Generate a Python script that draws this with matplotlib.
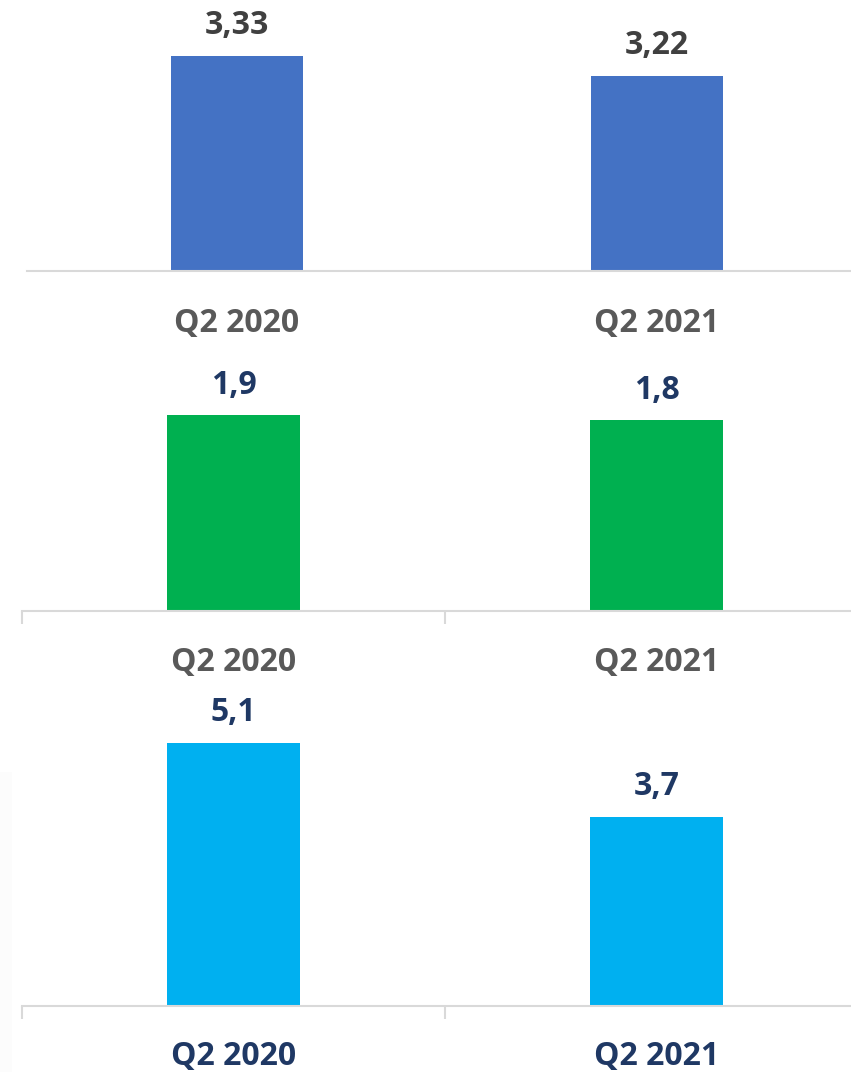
import matplotlib
matplotlib.use("Agg")
import matplotlib.pyplot as plt
from matplotlib.transforms import blended_transform_factory, offset_copy
from matplotlib.patches import Rectangle

plt.rcParams['font.family'] = ['Open Sans', 'DejaVu Sans']

# ---- data ----
categories = ["Q2 2020", "Q2 2021"]
values_top = [3.33, 3.22]
labels_top = ["3,33", "3,22"]
values_mid = [1.86, 1.81]
labels_mid = ["1,9", "1,8"]
values_bot = [5.10, 3.67]
labels_bot = ["5,1", "3,7"]

W, H = 851, 1072
DPI = 100
fig = plt.figure(figsize=(W / DPI, H / DPI), dpi=DPI)
fig.patch.set_facecolor("white")

GRAY_AX = "#D9D9D9"
GRAY_TXT = "#595959"
DARK_TXT = "#404040"
NAVY = "#1F3864"
FS = 23


def make_panel(vals, labels, color, left_px, width_px, base_px, height_px, ylim,
               val_color, cat_color, ticks, label_off_px):
    ax = fig.add_axes([left_px / W, 1 - base_px / H, width_px / W, height_px / H])
    x = list(range(len(vals)))
    ax.bar(x, vals, width=0.314, color=color)
    ax.set_xlim(-0.5, len(vals) - 0.5)
    ax.set_ylim(*ylim)
    for s in ["top", "right", "left"]:
        ax.spines[s].set_visible(False)
    ax.spines["bottom"].set_color(GRAY_AX)
    ax.spines["bottom"].set_linewidth(1.5)
    ax.set_yticks([])
    ax.set_xticks([])
    if ticks:
        ax.set_xticks([i - 0.5 for i in range(len(vals) + 1)], minor=True)
        ax.tick_params(axis="x", which="minor", length=9, width=1.5, color=GRAY_AX)
    ax.patch.set_alpha(0)
    for i, (v, lab) in enumerate(zip(vals, labels)):
        ax.annotate(lab, (i, v), xytext=(0, 15.5), textcoords="offset points",
                    ha="center", va="baseline", fontsize=FS, fontweight="bold",
                    color=val_color, annotation_clip=False)
    trans = blended_transform_factory(ax.transData, ax.transAxes)
    trans = offset_copy(trans, fig=fig, x=0, y=-label_off_px, units="dots")
    for i, c in enumerate(categories):
        ax.text(i, 0, c, transform=trans, ha="center", va="baseline",
                fontsize=FS, fontweight="bold", color=cat_color)
    return ax


# panel 1 (non-zero baseline)
k1 = 181.8
b1 = 2.149
make_panel(values_top, labels_top, "#4472C4", 27, 840, 270.7, 270.7,
           (b1, b1 + 270.7 / k1), DARK_TXT, GRAY_TXT, False, 61)

# panel 2
k2 = 105.2
make_panel(values_mid, labels_mid, "#00B050", 22, 846, 610.7, 250,
           (0, 250 / k2), NAVY, GRAY_TXT, True, 60)

# panel 3
k3 = 51.57
make_panel(values_bot, labels_bot, "#00B0F0", 22, 846, 1006, 300,
           (0, 300 / k3), NAVY, NAVY, True, 59)

# very faint strip at the left edge
fig.patches.append(Rectangle((0, 0), 12 / W, 300 / H, transform=fig.transFigure,
                             facecolor="#FCFCFC", edgecolor="none", zorder=-1))

fig.savefig("out.png", dpi=DPI, facecolor="white")
